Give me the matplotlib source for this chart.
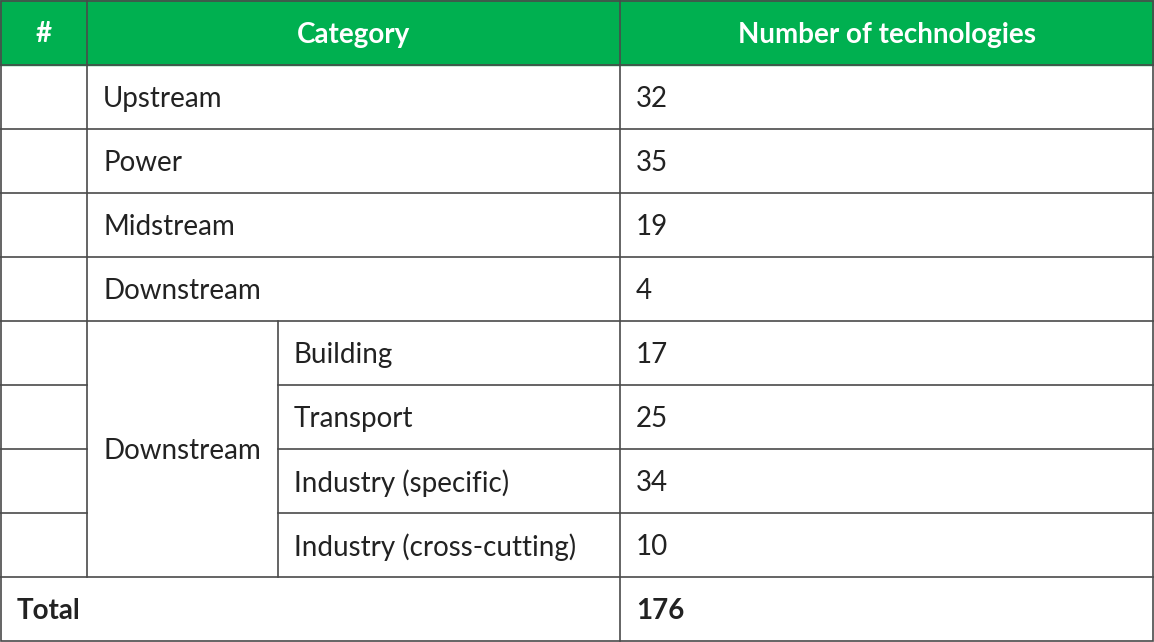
import matplotlib

matplotlib.use("Agg")
import matplotlib.pyplot as plt
from matplotlib.patches import Rectangle

# table content
header = ["#", "Category", "Number of technologies"]
main_categories = ["Upstream", "Power", "Midstream", "Downstream"]
main_counts = [32, 35, 19, 4]
group_label = "Downstream"
sub_categories = ["Building", "Transport", "Industry (specific)", "Industry (cross-cutting)"]
sub_counts = [17, 25, 34, 10]
total_label = "Total"
total_count = 176

W, H = 1154, 642
ROW_H = 64
HEAD_H = 65
X_NUM, X_SUB, X_VAL = 87, 278, 620
GREEN = "#00b050"
LINE = "#4a4a4a"
FONT = "Lato"
FS = 20
DY = 2  # text sits a touch below the row centre

fig = plt.figure(figsize=(W / 100, H / 100), dpi=100)
ax = fig.add_axes([0, 0, 1, 1])
ax.set_xlim(0, W)
ax.set_ylim(H, 0)
ax.axis("off")

ax.add_patch(Rectangle((0, 0), W, HEAD_H, color=GREEN, zorder=0))
hk = dict(color="white", fontsize=FS, fontweight="bold", family=FONT, va="center", ha="center")
ax.text(X_NUM / 2, HEAD_H / 2 + DY, header[0], **hk)
ax.text((X_NUM + X_VAL) / 2, HEAD_H / 2 + DY, header[1], **hk)
ax.text((X_VAL + W) / 2, HEAD_H / 2 + DY, header[2], **hk)

tk = dict(color="#222222", fontsize=FS, family=FONT, va="center", ha="left")
n_rows = len(main_categories) + len(sub_categories)
top = lambda i: HEAD_H + i * ROW_H

for i, (name, cnt) in enumerate(zip(main_categories, main_counts)):
    yc = top(i) + ROW_H / 2 + DY
    ax.text(X_NUM + 16, yc, name, **tk)
    ax.text(X_VAL + 16, yc, str(cnt), **tk)

off = len(main_categories)
for j, (name, cnt) in enumerate(zip(sub_categories, sub_counts)):
    yc = top(off + j) + ROW_H / 2 + DY
    ax.text(X_SUB + 16, yc, name, **tk)
    ax.text(X_VAL + 16, yc, str(cnt), **tk)
ax.text(X_NUM + 16, (top(off) + top(n_rows)) / 2 + DY, group_label, **tk)

yc = top(n_rows) + ROW_H / 2 + DY
bk = dict(tk, fontweight="bold")
ax.text(17, yc, total_label, **bk)
ax.text(X_VAL + 16, yc, str(total_count), **bk)

lk = dict(color=LINE, lw=1.2)
# horizontal rules
for i in range(n_rows + 1):
    y = top(i)
    if off < i < n_rows:
        ax.plot([0, X_NUM], [y, y], **lk)
        ax.plot([X_SUB, W], [y, y], **lk)
    else:
        ax.plot([0, W], [y, y], **lk)
# vertical rules
ax.plot([X_NUM, X_NUM], [0, top(n_rows)], **lk)
ax.plot([X_SUB, X_SUB], [top(off), top(n_rows)], **lk)
ax.plot([X_VAL, X_VAL], [0, H - 1], **lk)
ax.add_patch(Rectangle((0.7, 0.7), W - 1.4, H - 1.4, fill=False, ec=LINE, lw=1.2))

fig.savefig("out.png", dpi=100)
